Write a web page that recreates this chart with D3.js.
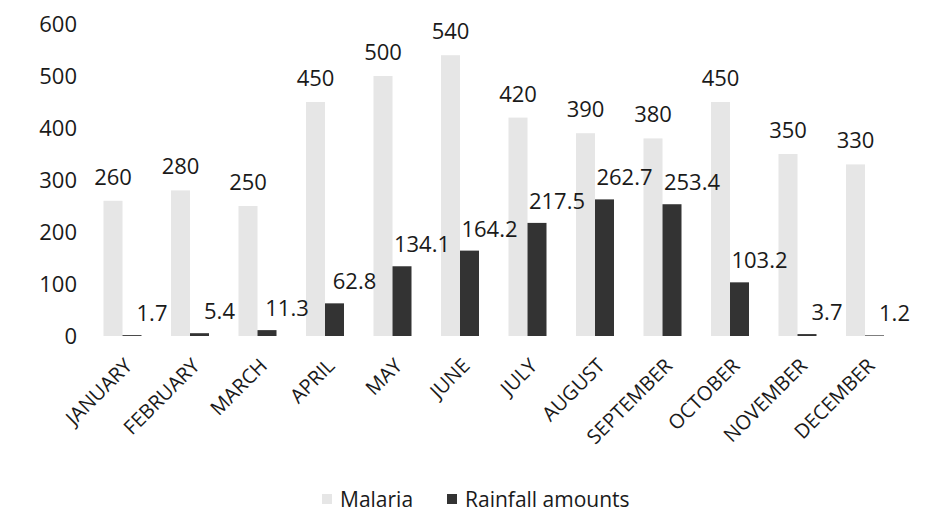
<!DOCTYPE html>
<html>
<head>
<meta charset="utf-8">
<script src="https://cdn.jsdelivr.net/npm/d3@7"></script>
<style>
  html, body { margin: 0; padding: 0; background: #fff; }
  svg { display: block; }
  text { font-family: "Open Sans", "Noto Sans", sans-serif; fill: #1a1a1a; }
</style>
</head>
<body>
<svg id="chart" width="925" height="515"></svg>
<script>
const months = ["JANUARY","FEBRUARY","MARCH","APRIL","MAY","JUNE","JULY","AUGUST","SEPTEMBER","OCTOBER","NOVEMBER","DECEMBER"];
const malaria = [260, 280, 250, 450, 500, 540, 420, 390, 380, 450, 350, 330];
const rainfall = [1.7, 5.4, 11.3, 62.8, 134.1, 164.2, 217.5, 262.7, 253.4, 103.2, 3.7, 1.2];
const seriesNames = ["Malaria", "Rainfall amounts"];
const yTicks = [0, 100, 200, 300, 400, 500, 600];

const colors = { "Malaria": "#e6e6e6", "Rainfall amounts": "#333333" };

const svg = d3.select("#chart");
const plot = { left: 88.75, right: 898.75, top: 24, bottom: 336 };

const x0 = d3.scaleBand().domain(months).range([plot.left, plot.right])
  .paddingInner(0.437).paddingOuter(0.2185);
const x1 = d3.scaleBand().domain(seriesNames).range([0, x0.bandwidth()]).padding(0);
const y = d3.scaleLinear().domain([0, 600]).range([plot.bottom, plot.top]);

// Y axis labels (no line, no ticks)
const yAxis = d3.axisLeft(y).tickValues(yTicks).tickSize(0).tickPadding(0);
const yg = svg.append("g").attr("transform", `translate(77,0)`).call(yAxis);
yg.select(".domain").remove();
yg.selectAll("text").style("font-size", "22px").style("font-family", "'Open Sans', sans-serif").attr("fill", "#1a1a1a");

const data = months.map((m, i) => ({ month: m, vals: [
  { s: "Malaria", v: malaria[i] },
  { s: "Rainfall amounts", v: rainfall[i] }
]}));

// bars layer
const barLayer = svg.append("g");
const groups = barLayer.selectAll("g").data(data).join("g")
  .attr("transform", d => `translate(${x0(d.month)},0)`);
groups.selectAll("rect").data(d => d.vals).join("rect")
  .attr("x", d => x1(d.s))
  .attr("width", x1.bandwidth())
  .attr("y", d => y(d.v))
  .attr("height", d => y(0) - y(d.v))
  .attr("fill", d => colors[d.s]);

// labels layer (on top of all bars)
const labelLayer = svg.append("g");
const lgroups = labelLayer.selectAll("g").data(data).join("g")
  .attr("transform", d => `translate(${x0(d.month)},0)`);
lgroups.append("text")
  .attr("x", x1("Malaria") + x1.bandwidth() / 2)
  .attr("y", d => y(d.vals[0].v) - 16)
  .attr("text-anchor", "middle")
  .style("font-size", "22px")
  .text(d => d3.format("d")(d.vals[0].v));
lgroups.append("text")
  .attr("x", x1("Rainfall amounts") + x1.bandwidth() / 2 + 20)
  .attr("y", d => y(d.vals[1].v) - 14)
  .attr("text-anchor", "middle")
  .style("font-size", "22px")
  .text(d => d.vals[1].v.toFixed(1));

// X axis labels rotated
const xAxis = d3.axisBottom(x0).tickSize(0).tickPadding(0);
const xg = svg.append("g").attr("transform", `translate(0,${plot.bottom})`).call(xAxis);
xg.select(".domain").remove();
xg.selectAll(".tick text")
  .style("font-size", "20px")
  .style("font-family", "'Open Sans', sans-serif")
  .attr("fill", "#1a1a1a")
  .attr("text-anchor", "end")
  .attr("dy", null)
  .attr("y", 0)
  .attr("transform", "translate(11,31) rotate(-45)");

// legend
const legendItems = [
  { name: "Malaria", x: 322 },
  { name: "Rainfall amounts", x: 447 }
];
const lg = svg.append("g");
legendItems.forEach(it => {
  lg.append("rect").attr("x", it.x).attr("y", 494).attr("width", 10).attr("height", 10)
    .attr("fill", colors[it.name]);
  lg.append("text").attr("x", it.x + 18).attr("y", 507)
    .style("font-size", "21px").text(it.name);
});
</script>
</body>
</html>
